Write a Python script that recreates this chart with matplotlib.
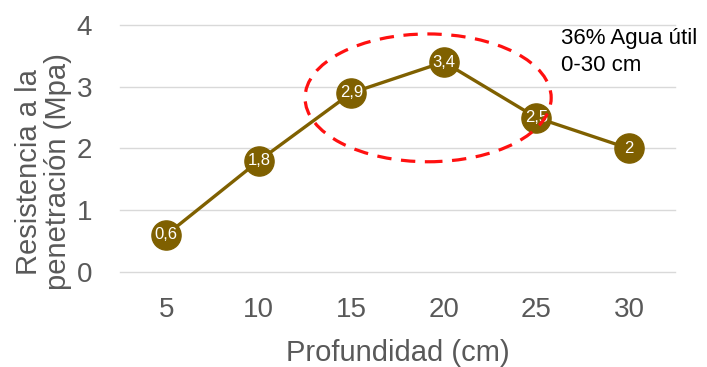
import matplotlib.pyplot as plt
from matplotlib.patches import Ellipse

profundidad = ["5", "10", "15", "20", "25", "30"]
resistencia = [0.6, 1.8, 2.9, 3.4, 2.5, 2.0]
etiquetas = ["0,6", "1,8", "2,9", "3,4", "2,5", "2"]

plt.rcParams['font.family'] = ['Liberation Sans', 'DejaVu Sans']

fig = plt.figure(figsize=(7.07, 3.67), dpi=100)
ax = fig.add_axes([0.1697, 0.2589, 0.7853, 0.673])

x = list(range(len(profundidad)))
ax.plot(x, resistencia, color='#7f6000', lw=2.4, marker='o', ms=21,
        mfc='#7f6000', mec='#7f6000', zorder=3)
for xi, yi, t in zip(x, resistencia, etiquetas):
    ax.text(xi, yi, t, color='white', fontsize=12, ha='center', va='center', zorder=4)

# zona marcada
ax.add_patch(Ellipse((2.83, 2.82), 2.66, 2.07, fill=False, ec='#ff1010', lw=2.3,
                     ls=(0, (4.5, 3)), zorder=5, clip_on=False))

ax.set_xlim(-0.5, 5.5)
ax.set_ylim(0, 4)
ax.set_yticks([0, 1, 2, 3, 4])
ax.set_xticks(x)
ax.set_xticklabels(profundidad)
ax.grid(axis='y', color='#d9d9d9', lw=1)
for gl in ax.get_ygridlines():
    gl.set_clip_on(False)
ax.set_axisbelow(True)
for s in ax.spines.values():
    s.set_visible(False)
ax.tick_params(length=0, labelsize=20, colors='#595959')
ax.tick_params(axis='x', pad=18)
ax.tick_params(axis='y', pad=20)

ax.set_xlabel("Profundidad (cm)", fontsize=21, color='#595959')
ax.xaxis.set_label_coords(0.501, -0.27)
ax.set_ylabel("Resistencia a la\npenetración (Mpa)", fontsize=21, color='#595959',
              linespacing=1.05)
ax.yaxis.set_label_coords(-0.087, 0.405)

fig.text(0.7935, 0.925, "36% Agua útil\n0-30 cm", fontsize=16, color='black',
         ha='left', va='top', linespacing=1.4)

fig.savefig("out.png", dpi=100)
